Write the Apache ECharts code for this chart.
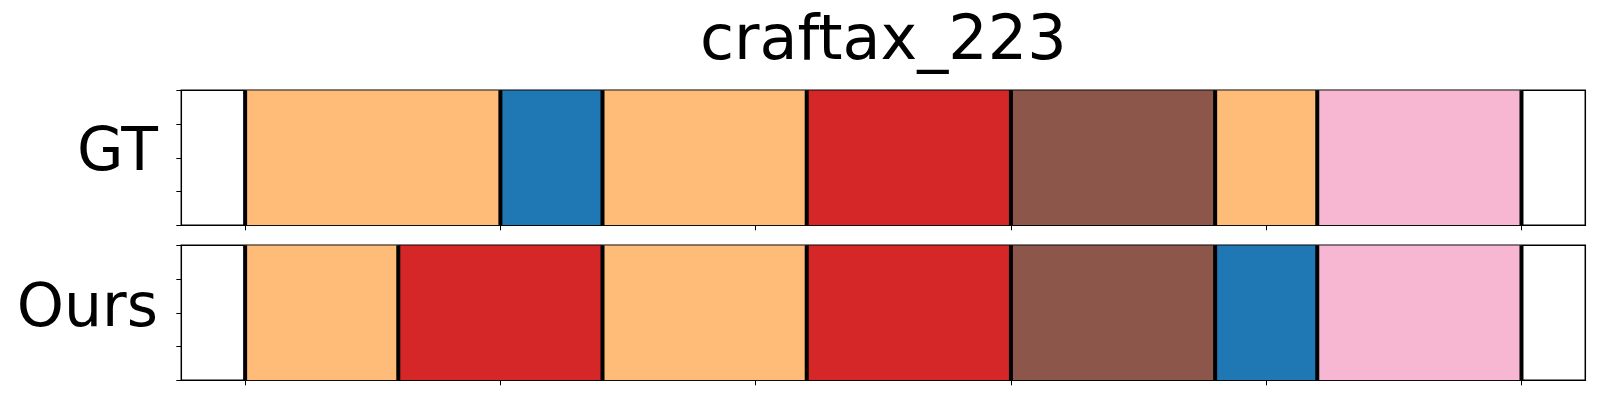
<!DOCTYPE html>
<html>
<head>
<meta charset="utf-8">
<script src="https://cdn.jsdelivr.net/npm/echarts@6/dist/echarts.min.js"></script>
<style>
html,body{margin:0;padding:0;background:#fff;}
#main{width:1600px;height:400px;}
</style>
</head>
<body>
<div id="main"></div>
<script>
// ---- data ----
const title = 'craftax_223';
const rowLabels = ['GT', 'Ours'];
const gtStarts = [0, 100, 140, 220, 300, 380, 420];
const gtEnds   = [100, 140, 220, 300, 380, 420, 500];
const gtKinds  = ['orange', 'blue', 'orange', 'red', 'brown', 'orange', 'pink'];
const oursStarts = [0, 60, 140, 220, 300, 380, 420];
const oursEnds   = [60, 140, 220, 300, 380, 420, 500];
const oursKinds  = ['orange', 'red', 'orange', 'red', 'brown', 'blue', 'pink'];
const xTicks = [0, 100, 200, 300, 400, 500];
const xMin = -25, xMax = 525;

const palette = {
  orange: '#ffbb78',
  blue: '#1f77b4',
  red: '#d62728',
  brown: '#8c564b',
  pink: '#f7b6d2'
};

function segData(starts, ends, kinds) {
  return starts.map((s, i) => [s, ends[i], kinds[i]]);
}
function boundaryData(starts, ends) {
  const b = starts.slice();
  b.push(ends[ends.length - 1]);
  return b.map(v => [v]);
}

const rects = function (params, api) {
  const p0 = api.coord([api.value(0), 0]);
  const p1 = api.coord([api.value(1), 1]);
  return {
    type: 'rect',
    shape: { x: p0[0], y: p1[1], width: p1[0] - p0[0], height: p0[1] - p1[1] },
    style: { fill: palette[api.value(2)] }
  };
};
const lines = function (params, api) {
  const p0 = api.coord([api.value(0), 0]);
  const p1 = api.coord([api.value(0), 1]);
  return {
    type: 'line',
    shape: { x1: p0[0], y1: p0[1], x2: p1[0], y2: p1[1] },
    style: { stroke: '#000', lineWidth: 4 }
  };
};

const gridLeft = 181.3, gridWidth = 1404, gridH = 135;
const tops = [90.3, 245.3];

const chart = echarts.init(document.getElementById('main'), null, { renderer: 'canvas' });

const grids = tops.map(t => ({
  left: gridLeft, top: t, width: gridWidth, height: gridH,
  show: true, borderColor: '#000', borderWidth: 1.5, backgroundColor: 'transparent'
}));
const xAxes = tops.map((t, i) => ({
  type: 'value', gridIndex: i, min: xMin, max: xMax, position: 'bottom',
  axisLine: { show: false, onZero: false },
  axisTick: { show: true, inside: false, length: 5, customValues: xTicks, lineStyle: { color: '#000', width: 1 } },
  axisLabel: { show: false, customValues: xTicks },
  splitLine: { show: false }
}));
const yAxes = tops.map((t, i) => ({
  type: 'value', gridIndex: i, min: 0, max: 1, interval: 0.25, position: 'left',
  axisLine: { show: false, onZero: false },
  axisTick: { show: true, inside: false, length: 5, lineStyle: { color: '#000', width: 1 } },
  axisLabel: { show: false },
  splitLine: { show: false }
}));

const series = [
  { type: 'custom', xAxisIndex: 0, yAxisIndex: 0, renderItem: rects, data: segData(gtStarts, gtEnds, gtKinds), z: 2, clip: true },
  { type: 'custom', xAxisIndex: 0, yAxisIndex: 0, renderItem: lines, data: boundaryData(gtStarts, gtEnds), z: 3 },
  { type: 'custom', xAxisIndex: 1, yAxisIndex: 1, renderItem: rects, data: segData(oursStarts, oursEnds, oursKinds), z: 2, clip: true },
  { type: 'custom', xAxisIndex: 1, yAxisIndex: 1, renderItem: lines, data: boundaryData(oursStarts, oursEnds), z: 3 }
];

const font = '"DejaVu Sans", sans-serif';
chart.setOption({
  animation: false,
  backgroundColor: '#fff',
  grid: grids,
  xAxis: xAxes,
  yAxis: yAxes,
  series: series,
  graphic: [
    { type: 'text', x: 883.3, y: 43, style: { text: title, font: '62px ' + font, fill: '#000', align: 'center', verticalAlign: 'middle' } },
    { type: 'text', x: 158, y: 154, style: { text: rowLabels[0], font: '60px ' + font, fill: '#000', align: 'right', verticalAlign: 'middle' } },
    { type: 'text', x: 158, y: 310, style: { text: rowLabels[1], font: '60px ' + font, fill: '#000', align: 'right', verticalAlign: 'middle' } }
  ]
});
</script>
</body>
</html>
